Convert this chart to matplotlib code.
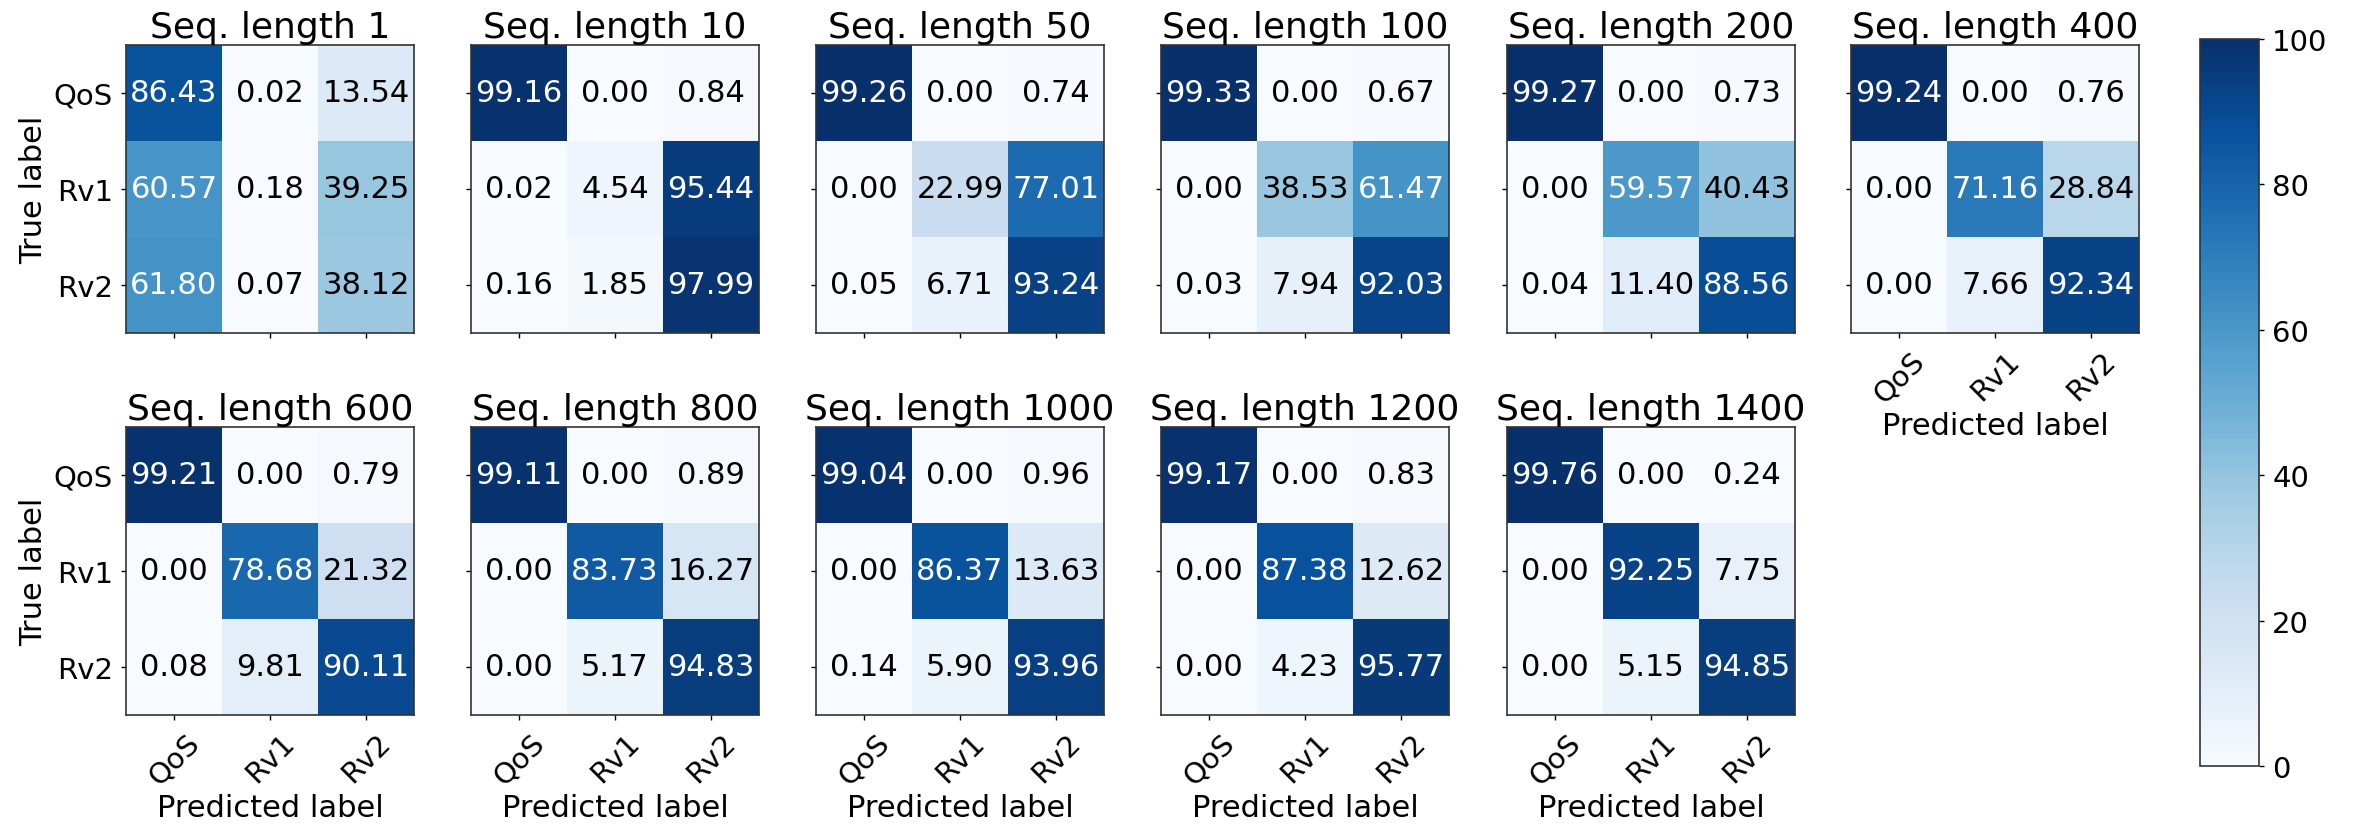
import matplotlib
matplotlib.use("Agg")
import matplotlib.pyplot as plt
import numpy as np

classes = ["QoS", "Rv1", "Rv2"]
seq_lengths = [1, 10, 50, 100, 200, 400, 600, 800, 1000, 1200, 1400]

cm_1 = [[86.43, 0.02, 13.54], [60.57, 0.18, 39.25], [61.80, 0.07, 38.12]]
cm_10 = [[99.16, 0.00, 0.84], [0.02, 4.54, 95.44], [0.16, 1.85, 97.99]]
cm_50 = [[99.26, 0.00, 0.74], [0.00, 22.99, 77.01], [0.05, 6.71, 93.24]]
cm_100 = [[99.33, 0.00, 0.67], [0.00, 38.53, 61.47], [0.03, 7.94, 92.03]]
cm_200 = [[99.27, 0.00, 0.73], [0.00, 59.57, 40.43], [0.04, 11.40, 88.56]]
cm_400 = [[99.24, 0.00, 0.76], [0.00, 71.16, 28.84], [0.00, 7.66, 92.34]]
cm_600 = [[99.21, 0.00, 0.79], [0.00, 78.68, 21.32], [0.08, 9.81, 90.11]]
cm_800 = [[99.11, 0.00, 0.89], [0.00, 83.73, 16.27], [0.00, 5.17, 94.83]]
cm_1000 = [[99.04, 0.00, 0.96], [0.00, 86.37, 13.63], [0.14, 5.90, 93.96]]
cm_1200 = [[99.17, 0.00, 0.83], [0.00, 87.38, 12.62], [0.00, 4.23, 95.77]]
cm_1400 = [[99.76, 0.00, 0.24], [0.00, 92.25, 7.75], [0.00, 5.15, 94.85]]

matrices = [cm_1, cm_10, cm_50, cm_100, cm_200, cm_400,
            cm_600, cm_800, cm_1000, cm_1200, cm_1400]

W, H = 2356, 829
dpi = 200
plt.rcParams['font.family'] = ['DejaVu Sans']
fig = plt.figure(figsize=(W / dpi, H / dpi), dpi=dpi)

col_left = [126, 471, 816, 1161, 1507, 1851]
row_top = [46, 428]
size = 288

im = None
for idx, (sl, cm) in enumerate(zip(seq_lengths, matrices)):
    r, c = divmod(idx, 6)
    left = col_left[c] / W
    bottom = 1 - (row_top[r] + size) / H
    ax = fig.add_axes([left, bottom, size / W, size / H])
    arr = np.array(cm)
    im = ax.imshow(arr, cmap="Blues", vmin=0, vmax=100,
                   interpolation="nearest", aspect="auto")
    ax.set_title(f"Seq. length {sl}", fontsize=13, pad=3)
    ticks = np.arange(len(classes))
    ax.set_xticks(ticks)
    ax.set_yticks(ticks)
    ax.tick_params(length=1.75, width=0.5, pad=3, labelsize=10.5)
    for i in range(arr.shape[0]):
        for j in range(arr.shape[1]):
            v = arr[i, j]
            ax.text(j, i, f"{v:.2f}", ha="center", va="center",
                    fontsize=11, color="white" if v > 50 else "black")
    show_x = (r == 1) or (c == 5)
    if show_x:
        ax.set_xticklabels(classes, rotation=45)
        ax.set_xlabel("Predicted label", fontsize=11, labelpad=1)
    else:
        ax.set_xticklabels([])
    if c == 0:
        ax.set_yticklabels(classes)
        ax.set_ylabel("True label", fontsize=11, labelpad=2)
    else:
        ax.set_yticklabels([])
    for s in ax.spines.values():
        s.set_linewidth(0.6)
        s.set_color("#333333")

cax = fig.add_axes([2200 / W, 1 - 767 / H, 59 / W, 727 / H])
cb = fig.colorbar(im, cax=cax, ticks=[0, 20, 40, 60, 80, 100])
cb.ax.tick_params(labelsize=10.5, length=1.75, width=0.5, pad=3)
cb.outline.set_linewidth(0.6)
cb.outline.set_edgecolor("#333333")

fig.savefig("out.png", dpi=dpi)
